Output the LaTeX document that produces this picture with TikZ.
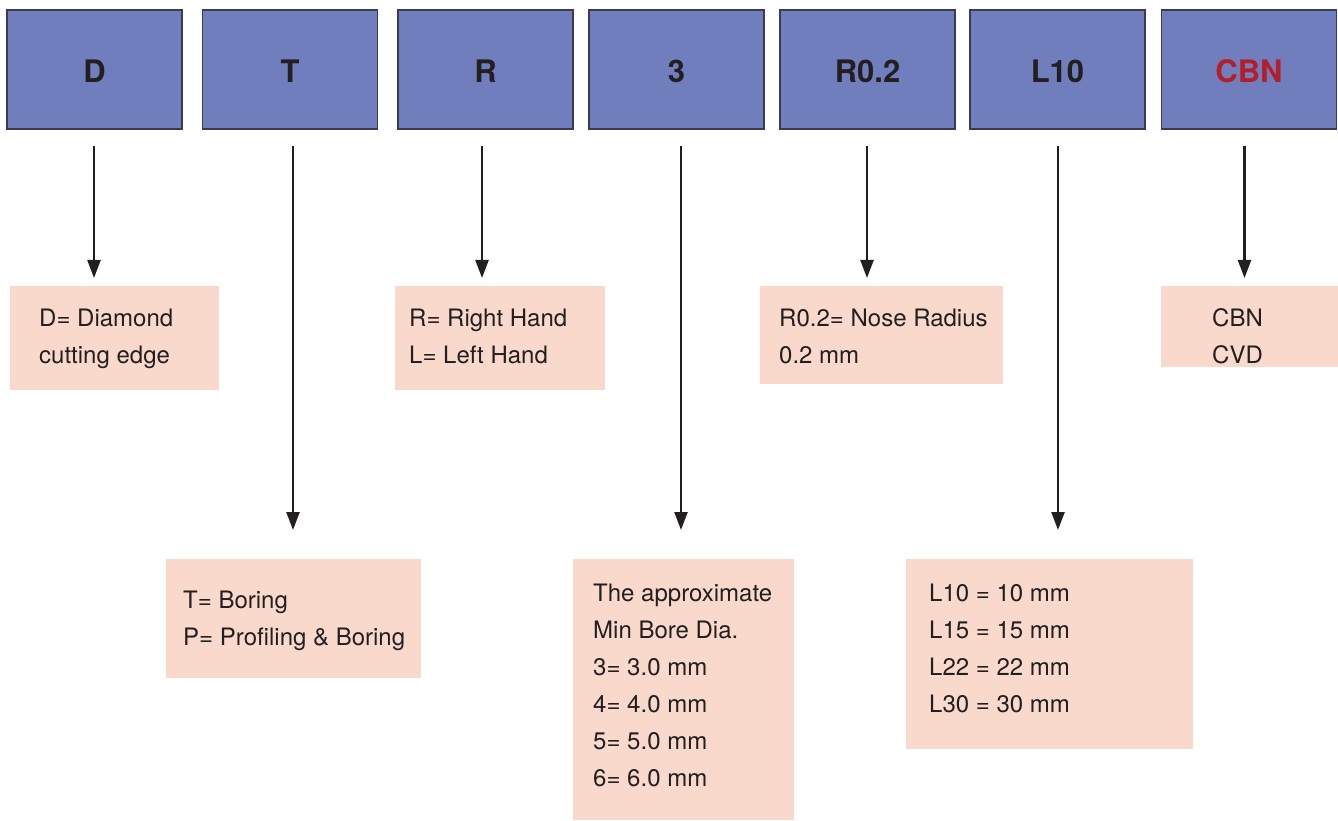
\documentclass[tikz,border=0pt]{standalone}
\usepackage{fontspec}
\setmainfont{TeX Gyre Heros}
\usetikzlibrary{arrows.meta,calc}
\definecolor{topblue}{HTML}{717EBD}
\definecolor{topedge}{HTML}{3C3C50}
\definecolor{pinkbg}{HTML}{F8D9CC}
\definecolor{txt}{HTML}{231F20}
\definecolor{redtxt}{HTML}{B31E28}
\begin{document}
\begin{tikzpicture}[x=1pt,y=1pt,
 codebox/.style={draw=topedge, line width=1.3pt, fill=topblue, minimum width=175pt, minimum height=119pt, inner sep=0pt, font=\fontsize{31}{37}\selectfont\bfseries, text=txt},
 codelabel/.style={inner sep=0pt, font=\fontsize{31}{37}\selectfont\bfseries, text=txt},
 infobox/.style={fill=pinkbg, inner sep=0pt, anchor=north west},
 infotext/.style={anchor=north west, inner sep=0pt, align=left, font=\fontsize{24}{37}\selectfont, text=txt},
 arr/.style={draw=txt, line width=2.4pt, -{Triangle[length=18pt,width=13pt]}}
]
\useasboundingbox (0,0) rectangle (1338,820);
% top code boxes
\node[codebox] (cD) at (94.5,750.5) {};
\node[codebox] (cT) at (290,750.5) {};
\node[codebox] (cR) at (485.5,750.5) {};
\node[codebox] (c3) at (676.5,750.5) {};
\node[codebox] (cR02) at (867.5,750.5) {};
\node[codebox] (cL) at (1057.5,750.5) {};
\node[codebox] (cC) at (1249,750.5) {};
\node[codelabel] (lD) at ($(cD.center)+(0,-1.5)$) {D};
\node[codelabel] (lT) at ($(cT.center)+(0,-1.5)$) {T};
\node[codelabel] (lR) at ($(cR.center)+(0,-1.5)$) {R};
\node[codelabel] (l3) at ($(c3.center)+(0,-1.5)$) {3};
\node[codelabel] (lR02) at ($(cR02.center)+(0,-1.5)$) {R0.2};
\node[codelabel] (lL) at ($(cL.center)+(0,-1.5)$) {L10};
\node[codelabel, text=redtxt] (lC) at ($(cC.center)+(0,-1.5)$) {CBN};
% info boxes
\node[infobox, minimum width=209pt, minimum height=104pt] (bD) at (10,534) {};
\node[infobox, minimum width=255pt, minimum height=119pt] (bT) at (166,261) {};
\node[infobox, minimum width=210pt, minimum height=104pt] (bR) at (395,534) {};
\node[infobox, minimum width=221pt, minimum height=261pt] (b3) at (573,261) {};
\node[infobox, minimum width=243pt, minimum height=98pt] (bR02) at (760,534) {};
\node[infobox, minimum width=287pt, minimum height=190pt] (bL) at (906,261) {};
\node[infobox, minimum width=177pt, minimum height=81pt] (bC) at (1161,534) {};
% texts
\node[infotext] (tD) at (39,519.4) {\strut D= Diamond\\cutting edge};
\node[infotext] (tT) at (183,237.4) {\strut T= Boring\\P= Profiling \& Boring};
\node[infotext] (tR) at (409,519.4) {\strut R= Right Hand\\L= Left Hand};
\node[infotext] (t3) at (593,244.4) {\strut The approximate\\Min Bore Dia.\\3= 3.0 mm\\4= 4.0 mm\\5= 5.0 mm\\6= 6.0 mm};
\node[infotext] (tR02) at (779,519.4) {\strut R0.2= Nose Radius\\0.2 mm};
\node[infotext] (tL) at (929,244.4) {\strut L10 = 10 mm\\L15 = 15 mm\\L22 = 22 mm\\L30 = 30 mm};
\node[infotext] (tC) at (1212,519.4) {\strut CBN\\CVD};
% arrows
\draw[arr, shorten <=16pt, shorten >=8pt] ($(cD.south)+(-0.5,0)$) -- ($(cD.south |- bD.north)+(-0.5,0)$);
\draw[arr, shorten <=16pt, shorten >=29pt] ($(cT.south)+(3,0)$) -- ($(cT.south |- bT.north)+(3,0)$);
\draw[arr, shorten <=16pt, shorten >=8pt] ($(cR.south)+(-3.5,0)$) -- ($(cR.south |- bR.north)+(-3.5,0)$);
\draw[arr, shorten <=16pt, shorten >=29pt] ($(c3.south)+(4.5,0)$) -- ($(c3.south |- b3.north)+(4.5,0)$);
\draw[arr, shorten <=16pt, shorten >=8pt] ($(cR02.south)+(-0.5,0)$) -- ($(cR02.south |- bR02.north)+(-0.5,0)$);
\draw[arr, shorten <=16pt, shorten >=29pt] ($(cL.south)+(0.5,0)$) -- ($(cL.south |- bL.north)+(0.5,0)$);
\draw[arr, shorten <=16pt, shorten >=8pt] ($(cC.south)+(-4.5,0)$) -- ($(cC.south |- bC.north)+(-4.5,0)$);
\end{tikzpicture}
\end{document}
